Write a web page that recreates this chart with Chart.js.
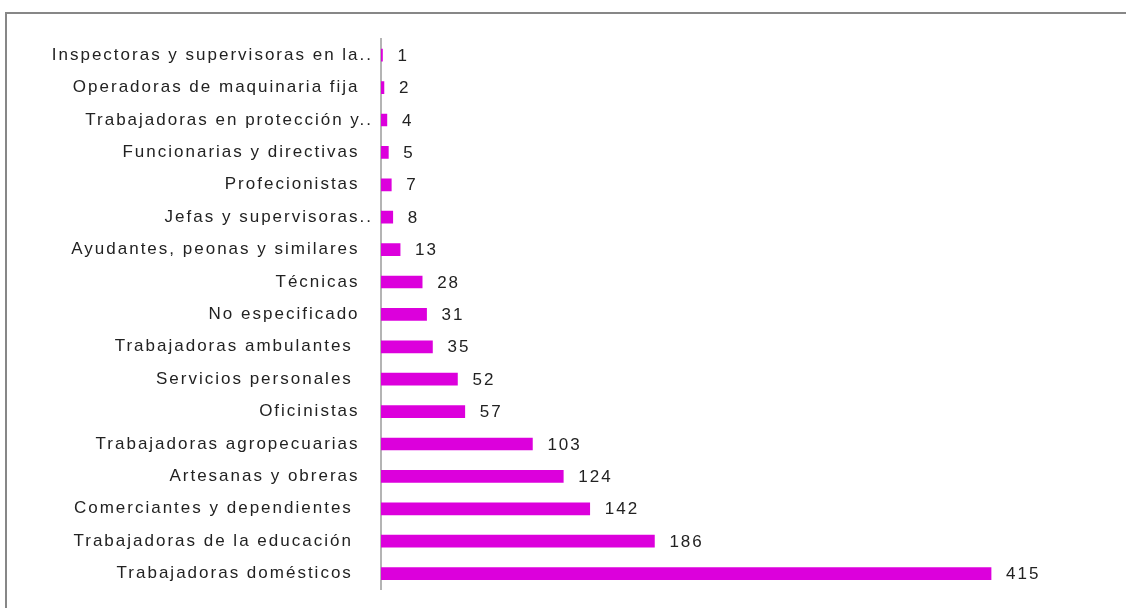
<!DOCTYPE html>
<html>
<head>
<meta charset="utf-8">
<script src="https://cdn.jsdelivr.net/npm/chart.js@4/dist/chart.umd.min.js"></script>
<style>
  html, body { margin: 0; padding: 0; background: #ffffff; }
  #wrap { width: 1127px; height: 608px; position: relative; }
</style>
</head>
<body>
<div id="wrap"><canvas id="chart" width="1127" height="608"></canvas></div>
<script>
// Occupations (top to bottom) and the number of women in each
const categories = [
  'Inspectoras y supervisoras en la..',
  'Operadoras de maquinaria fija  ',
  'Trabajadoras en protección y..',
  'Funcionarias y directivas  ',
  'Profecionistas  ',
  'Jefas y supervisoras..',
  'Ayudantes, peonas y similares  ',
  'Técnicas  ',
  'No especificado  ',
  'Trabajadoras ambulantes   ',
  'Servicios personales   ',
  'Oficinistas  ',
  'Trabajadoras agropecuarias  ',
  'Artesanas y obreras  ',
  'Comerciantes y dependientes   ',
  'Trabajadoras de la educación   ',
  'Trabajadoras domésticos   '
];
const values = [1, 2, 4, 5, 7, 8, 13, 28, 31, 35, 52, 57, 103, 124, 142, 186, 415];

const FONT = { family: '"Liberation Sans", Arial, sans-serif', size: 17 };
const SPACING = '2px';

// Wide letter spacing for every text drawn on the canvas
const spacingPlugin = {
  id: 'spacing',
  beforeLayout(chart) { chart.ctx.letterSpacing = SPACING; },
  beforeDraw(chart) { chart.ctx.letterSpacing = SPACING; }
};

// Grey frame along the top and left edges
const framePlugin = {
  id: 'frame',
  beforeDraw(chart) {
    const ctx = chart.ctx;
    ctx.save();
    ctx.strokeStyle = '#878787';
    ctx.lineWidth = 2;
    ctx.beginPath();
    ctx.moveTo(6, 608);
    ctx.lineTo(6, 13);
    ctx.lineTo(1126, 13);
    ctx.stroke();
    ctx.restore();
  }
};

// Value printed to the right of each bar
const valueLabels = {
  id: 'valueLabels',
  afterDatasetsDraw(chart) {
    const ctx = chart.ctx;
    const meta = chart.getDatasetMeta(0);
    ctx.save();
    ctx.letterSpacing = SPACING;
    ctx.font = `${FONT.size}px ${FONT.family}`;
    ctx.fillStyle = '#222222';
    ctx.textAlign = 'left';
    ctx.textBaseline = 'middle';
    meta.data.forEach((bar, i) => {
      ctx.fillText(String(chart.data.datasets[0].data[i]), bar.x + 15, bar.y + 1);
    });
    ctx.restore();
  }
};

new Chart(document.getElementById('chart'), {
  type: 'bar',
  data: {
    labels: categories,
    datasets: [{
      data: values,
      backgroundColor: '#dc00dc',
      borderWidth: 0,
      barThickness: 12
    }]
  },
  options: {
    indexAxis: 'y',
    responsive: false,
    animation: false,
    layout: { padding: { top: 39, bottom: 8, right: 11, left: 0 } },
    plugins: {
      legend: { display: false },
      tooltip: { enabled: false }
    },
    scales: {
      x: {
        display: false,
        min: 0,
        max: 500
      },
      y: {
        afterFit(scale) { scale.width = 381; },
        grid: { display: false, drawTicks: false },
        border: { display: true, color: '#b4b4b4', width: 2 },
        ticks: {
          color: '#222222',
          font: FONT,
          padding: 8,
          autoSkip: false
        }
      }
    }
  },
  plugins: [spacingPlugin, framePlugin, valueLabels]
});
</script>
</body>
</html>
